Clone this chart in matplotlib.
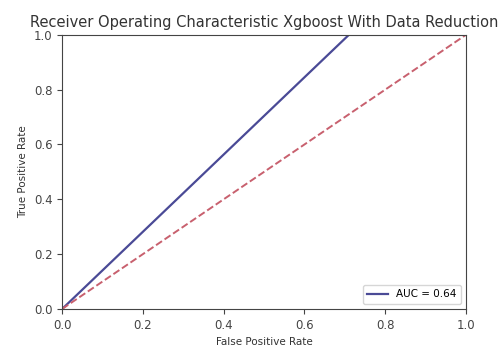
import numpy as np
import matplotlib.pyplot as plt

# ROC points
fpr = [0.0, 0.71, 1.0]
tpr = [0.0, 1.0, 1.0]
roc_auc = 0.64

diag = [0, 1]

fig = plt.figure(figsize=(5.02, 3.49), dpi=100)
ax = fig.add_axes([0.124, 0.115, 0.804, 0.785])
ax.plot(fpr, tpr, color='#4a4a96', label='AUC = %0.2f' % roc_auc, lw=1.6)
ax.plot(diag, diag, '--', color='#c8606e', lw=1.4)
ax.set_xlim([0, 1])
ax.set_ylim([0, 1])
ax.set_title('Receiver Operating Characteristic Xgboost With Data Reduction',
             fontsize=10.5, pad=6, color='#333333')
ax.set_xlabel('False Positive Rate', fontsize=7.5, color='#333333')
ax.set_ylabel('True Positive Rate', fontsize=7.5, color='#333333')
ax.tick_params(labelsize=8.5, colors='#444444')
for s in ax.spines.values():
    s.set_color('#444444')
ax.legend(loc='lower right', fontsize=7.5)

fig.savefig('out.png', dpi=100)
